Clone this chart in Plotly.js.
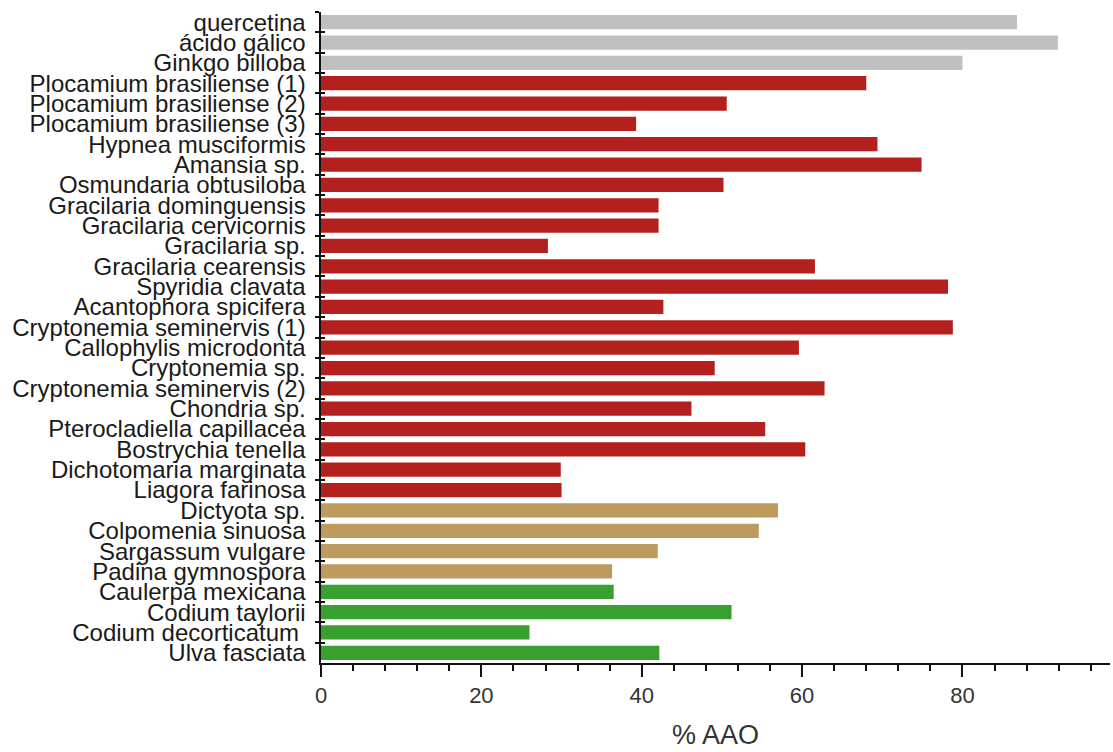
<!DOCTYPE html>
<html>
<head>
<meta charset="utf-8">
<script src="https://cdn.plot.ly/plotly-3.0.1.min.js"></script>
<style>html,body{margin:0;padding:0;background:#fff;}#chart{width:1113px;height:752px;}</style>
</head>
<body>
<div id="chart"></div>
<script>
const categories = [
  "quercetina", "ácido gálico", "Ginkgo billoba",
  "Plocamium brasiliense (1)", "Plocamium brasiliense (2)", "Plocamium brasiliense (3)",
  "Hypnea musciformis", "Amansia sp.", "Osmundaria obtusiloba",
  "Gracilaria dominguensis", "Gracilaria cervicornis", "Gracilaria sp.",
  "Gracilaria cearensis", "Spyridia clavata", "Acantophora spicifera",
  "Cryptonemia seminervis (1)", "Callophylis microdonta", "Cryptonemia sp.",
  "Cryptonemia seminervis (2)", "Chondria sp.", "Pterocladiella capillacea",
  "Bostrychia tenella", "Dichotomaria marginata", "Liagora farinosa",
  "Dictyota sp.", "Colpomenia sinuosa", "Sargassum vulgare", "Padina gymnospora",
  "Caulerpa mexicana", "Codium taylorii", "Codium decorticatum ", "Ulva fasciata"
];
const values = [
  86.8, 91.9, 80.0,
  68.0, 50.6, 39.3,
  69.4, 74.9, 50.2,
  42.1, 42.1, 28.3,
  61.6, 78.2, 42.7,
  78.8, 59.6, 49.1,
  62.8, 46.2, 55.4,
  60.4, 29.9, 30.0,
  57.0, 54.6, 42.0, 36.3,
  36.5, 51.2, 26.0, 42.2
];
const groups = [
  "ref", "ref", "ref",
  "red", "red", "red", "red", "red", "red", "red", "red", "red", "red",
  "red", "red", "red", "red", "red", "red", "red", "red", "red", "red", "red",
  "brown", "brown", "brown", "brown",
  "green", "green", "green", "green"
];
const palette = { ref: "#c0c0c0", red: "#b3201d", brown: "#bd9a5d", green: "#38a02e" };
const xTitle = "% AAO";

const colors = groups.map(g => palette[g]);
const font = "Liberation Sans, Arial, sans-serif";

const traces = [
  {
    type: "bar", orientation: "h",
    x: values, y: categories,
    marker: { color: colors, line: { width: 0 } },
    hoverinfo: "x+y"
  },
  {
    type: "bar", orientation: "h",
    x: values, y: categories,
    xaxis: "x", yaxis: "y2",
    marker: { color: colors, opacity: 0 },
    hoverinfo: "skip", showlegend: false
  }
];

const layout = {
  width: 1113, height: 752,
  margin: { l: 321, r: 3, t: 12, b: 89 },
  paper_bgcolor: "#fff", plot_bgcolor: "#fff",
  showlegend: false,
  bargap: 0.3,
  font: { family: font, color: "#1a1a1a" },
  xaxis: {
    range: [0, 98.4],
    showgrid: false, zeroline: false,
    showline: true, linecolor: "#111", linewidth: 2,
    ticks: "outside", ticklen: 12, tickwidth: 2, tickcolor: "#111",
    dtick: 20, tick0: 0,
    minor: { dtick: 4, tick0: 0, ticks: "outside", ticklen: 6, tickwidth: 2, tickcolor: "#111", showgrid: false },
    tickfont: { size: 22, color: "#333", family: font },
    ticklabelstandoff: 0,
    title: { text: xTitle, font: { size: 27, color: "#333", family: font }, standoff: 18 }
  },
  yaxis: {
    type: "category",
    autorange: "reversed",
    categoryorder: "array", categoryarray: categories,
    tickmode: "linear", tick0: 0, dtick: 1,
    showgrid: false, zeroline: false,
    showline: true, linecolor: "#111", linewidth: 2.5,
    ticks: "outside", ticklen: 4, tickwidth: 2, tickcolor: "#111",
    tickson: "boundaries",
    tickfont: { size: 24, color: "#1a1a1a", family: font },
    ticklabelstandoff: 8
  },
  yaxis2: {
    type: "category",
    overlaying: "y",
    autorange: "reversed",
    categoryorder: "array", categoryarray: categories,
    tickmode: "linear", tick0: 0, dtick: 1,
    showgrid: false, zeroline: false, showline: false,
    ticks: "inside", ticklen: 4, tickwidth: 2, tickcolor: "#111",
    tickson: "boundaries",
    showticklabels: false
  }
};

Plotly.newPlot("chart", traces, layout, { displayModeBar: false, staticPlot: true });
</script>
</body>
</html>
